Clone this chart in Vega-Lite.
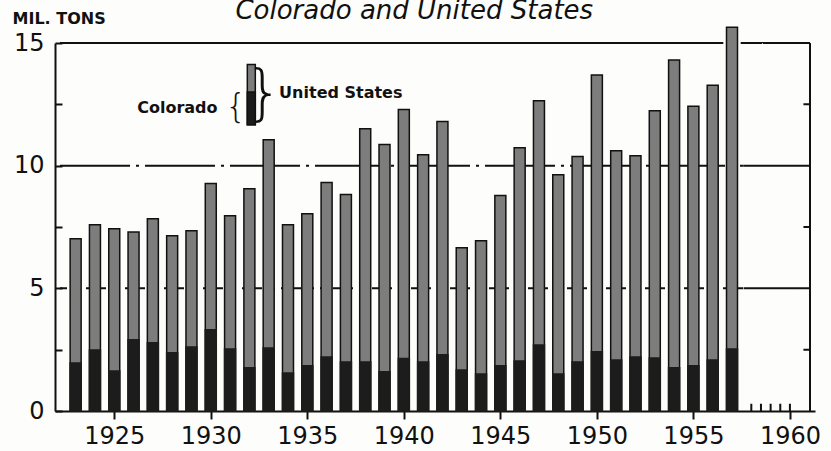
{
  "$schema": "https://vega.github.io/schema/vega-lite/v6.json",
  "width": 760,
  "height": 368,
  "autosize": {"type": "none"},
  "padding": {"left": 55, "top": 43, "right": 16, "bottom": 40},
  "background": "#fdfdfb",
  "config": {"view": {"stroke": null}, "font": "DejaVu Sans"},
  "datasets": {
    "coal": [
      {"year": 1923, "us": 7.02, "co": 1.96},
      {"year": 1924, "us": 7.59, "co": 2.49},
      {"year": 1925, "us": 7.43, "co": 1.63},
      {"year": 1926, "us": 7.30, "co": 2.90},
      {"year": 1927, "us": 7.84, "co": 2.78},
      {"year": 1928, "us": 7.14, "co": 2.37},
      {"year": 1929, "us": 7.35, "co": 2.61},
      {"year": 1930, "us": 9.27, "co": 3.31},
      {"year": 1931, "us": 7.96, "co": 2.53},
      {"year": 1932, "us": 9.06, "co": 1.76},
      {"year": 1933, "us": 11.06, "co": 2.57},
      {"year": 1934, "us": 7.59, "co": 1.55},
      {"year": 1935, "us": 8.04, "co": 1.84},
      {"year": 1936, "us": 9.31, "co": 2.20},
      {"year": 1937, "us": 8.82, "co": 2.00},
      {"year": 1938, "us": 11.50, "co": 2.00},
      {"year": 1939, "us": 10.86, "co": 1.60},
      {"year": 1940, "us": 12.29, "co": 2.14},
      {"year": 1941, "us": 10.45, "co": 2.00},
      {"year": 1942, "us": 11.80, "co": 2.29},
      {"year": 1943, "us": 6.65, "co": 1.67},
      {"year": 1944, "us": 6.94, "co": 1.51},
      {"year": 1945, "us": 8.78, "co": 1.84},
      {"year": 1946, "us": 10.73, "co": 2.04},
      {"year": 1947, "us": 12.65, "co": 2.69},
      {"year": 1948, "us": 9.63, "co": 1.51},
      {"year": 1949, "us": 10.37, "co": 2.00},
      {"year": 1950, "us": 13.70, "co": 2.41},
      {"year": 1951, "us": 10.61, "co": 2.08},
      {"year": 1952, "us": 10.40, "co": 2.20},
      {"year": 1953, "us": 12.24, "co": 2.16},
      {"year": 1954, "us": 14.31, "co": 1.76},
      {"year": 1955, "us": 12.42, "co": 1.84},
      {"year": 1956, "us": 13.28, "co": 2.08},
      {"year": 1957, "us": 15.64, "co": 2.53}
    ],
    "segs": [
      {"x1": 1922.19, "x2": 1956.55, "y1": 15, "y2": 15, "kind": "solid"},
      {"x1": 1957.45, "x2": 1961.04, "y1": 15, "y2": 15, "kind": "solid"},
      {"x1": 1922.19, "x2": 1957.6, "y1": 10, "y2": 10, "kind": "long"},
      {"x1": 1957.6, "x2": 1961.04, "y1": 10, "y2": 10, "kind": "solid"},
      {"x1": 1922.19, "x2": 1957.6, "y1": 5, "y2": 5, "kind": "short"},
      {"x1": 1957.6, "x2": 1961.04, "y1": 5, "y2": 5, "kind": "solid"},
      {"x1": 1961.04, "x2": 1961.04, "y1": 0, "y2": 15, "kind": "solid"},
      {"x1": 1960.7, "x2": 1961.04, "y1": 2.5, "y2": 2.5, "kind": "solid"},
      {"x1": 1960.7, "x2": 1961.04, "y1": 7.5, "y2": 7.5, "kind": "solid"},
      {"x1": 1960.7, "x2": 1961.04, "y1": 12.5, "y2": 12.5, "kind": "solid"},
      {"x1": 1958.0, "x2": 1958.0, "y1": 0, "y2": 0.3, "kind": "solid"},
      {"x1": 1958.5, "x2": 1958.5, "y1": 0, "y2": 0.3, "kind": "solid"},
      {"x1": 1959.0, "x2": 1959.0, "y1": 0, "y2": 0.3, "kind": "solid"},
      {"x1": 1959.5, "x2": 1959.5, "y1": 0, "y2": 0.3, "kind": "solid"},
      {"x1": 1960.0, "x2": 1960.0, "y1": 0, "y2": 0.3, "kind": "solid"}
    ],
    "legendbar": [
      {"x": 1932.1, "y1": 11.67, "y2": 14.12, "part": "us"},
      {"x": 1932.1, "y1": 11.67, "y2": 13.0, "part": "co"}
    ],
    "colorado": [{"x": 1930.35, "y": 12.35, "text": "Colorado"}],
    "unitedstates": [{"x": 1933.54, "y": 12.98, "text": "United States"}],
    "braces": [
      {"x": 1931.3, "y": 12.35, "text": "{", "size": 34},
      {"x": 1932.75, "y": 12.9, "text": "}", "size": 60}
    ],
    "title": [
      {"x": 1940.54, "y": 15.96, "text": "Colorado and United States"}
    ]
  },
  "layer": [
    {
      "data": {"name": "segs"},
      "mark": {"type": "rule", "color": "#111", "strokeWidth": 2},
      "encoding": {
        "x": {"field": "x1", "type": "quantitative", "scale": {"domain": [1922.19, 1961.04], "nice": false, "zero": false},
              "axis": {"values": [1925, 1930, 1935, 1940, 1945, 1950, 1955, 1960], "format": "d", "title": null, "grid": false,
                       "labelFontSize": 24, "labelColor": "#111", "labelPadding": 5, "tickSize": 8, "tickWidth": 2, "tickColor": "#111",
                       "domainWidth": 2, "domainColor": "#111", "labelFlush": false}},
        "x2": {"field": "x2"},
        "y": {"field": "y1", "type": "quantitative", "scale": {"domain": [0, 15], "nice": false},
              "axis": {"values": [0, 2.5, 5, 7.5, 10, 12.5, 15], "labelExpr": "datum.value % 5 == 0 ? datum.label : ''",
                       "title": "MIL. TONS", "titleAngle": 0, "titleX": -43, "titleY": -25, "titleAlign": "left", "titleBaseline": "middle",
                       "titleFontSize": 16, "titleFontWeight": "bold", "titleColor": "#111", "grid": false,
                       "labelFontSize": 24, "labelColor": "#111", "labelPadding": 18, "tickSize": -7, "tickWidth": 2, "tickColor": "#111",
                       "domainWidth": 2, "domainColor": "#111", "labelFlush": false}},
        "y2": {"field": "y2"},
        "strokeDash": {"field": "kind", "type": "nominal", "legend": null,
                       "scale": {"domain": ["solid", "long", "short"], "range": [[1, 0], [70, 6, 3, 6], [7, 6]]}}
      }
    },
    {
      "data": {"name": "coal"},
      "mark": {"type": "bar", "width": 11, "fill": "#7d7d7d", "stroke": "#111", "strokeWidth": 1.5},
      "encoding": {
        "x": {"field": "year", "type": "quantitative"},
        "y": {"field": "us", "type": "quantitative"}
      }
    },
    {
      "data": {"name": "coal"},
      "mark": {"type": "bar", "width": 11, "fill": "#1c1c1c", "stroke": "#1c1c1c", "strokeWidth": 1.5},
      "encoding": {
        "x": {"field": "year", "type": "quantitative"},
        "y": {"field": "co", "type": "quantitative"}
      }
    },
    {
      "data": {"name": "legendbar"},
      "mark": {"type": "bar", "width": 8, "stroke": "#111", "strokeWidth": 1.5},
      "encoding": {
        "x": {"field": "x", "type": "quantitative"},
        "y": {"field": "y2", "type": "quantitative"},
        "y2": {"field": "y1"},
        "fill": {"field": "part", "type": "nominal", "legend": null,
                 "scale": {"domain": ["us", "co"], "range": ["#7d7d7d", "#1c1c1c"]}}
      }
    },
    {
      "data": {"name": "colorado"},
      "mark": {"type": "text", "fontSize": 16, "fontWeight": "bold", "color": "#111", "baseline": "middle", "align": "right"},
      "encoding": {
        "x": {"field": "x", "type": "quantitative"},
        "y": {"field": "y", "type": "quantitative"},
        "text": {"field": "text"}
      }
    },
    {
      "data": {"name": "unitedstates"},
      "mark": {"type": "text", "fontSize": 16, "fontWeight": "bold", "color": "#111", "baseline": "middle", "align": "left"},
      "encoding": {
        "x": {"field": "x", "type": "quantitative"},
        "y": {"field": "y", "type": "quantitative"},
        "text": {"field": "text"}
      }
    },
    {
      "data": {"name": "braces"},
      "mark": {"type": "text", "fontWeight": 200, "color": "#111", "baseline": "middle", "align": "center"},
      "encoding": {
        "x": {"field": "x", "type": "quantitative"},
        "y": {"field": "y", "type": "quantitative"},
        "text": {"field": "text"},
        "size": {"field": "size", "type": "quantitative", "scale": null, "legend": null}
      }
    },
    {
      "data": {"name": "title"},
      "mark": {"type": "text", "fontSize": 26, "fontStyle": "italic", "color": "#111", "baseline": "alphabetic", "align": "center"},
      "encoding": {
        "x": {"field": "x", "type": "quantitative"},
        "y": {"field": "y", "type": "quantitative"},
        "text": {"field": "text"}
      }
    }
  ]
}
